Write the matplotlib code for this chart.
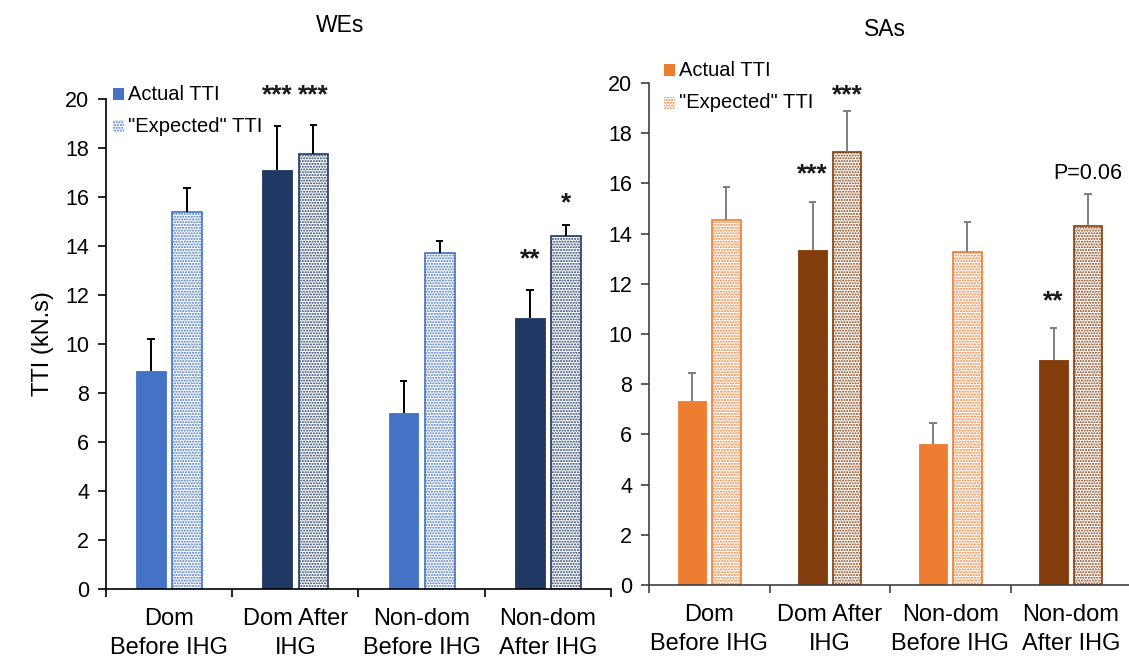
import matplotlib
matplotlib.use("Agg")
import matplotlib.pyplot as plt
from matplotlib.patches import Rectangle

plt.rcParams['font.family'] = ['Liberation Sans', 'DejaVu Sans']
plt.rcParams['hatch.linewidth'] = 1.0

# ---- data -------------------------------------------------------------
categories = ["Dom\nBefore IHG", "Dom After\nIHG", "Non-dom\nBefore IHG", "Non-dom\nAfter IHG"]
yticks = [0, 2, 4, 6, 8, 10, 12, 14, 16, 18, 20]

we_actual = [8.9, 17.1, 7.2, 11.05]
we_actual_err = [1.3, 1.8, 1.27, 1.14]
we_expected = [15.4, 17.75, 13.7, 14.4]
we_expected_err = [0.95, 1.2, 0.5, 0.45]

sa_actual = [7.35, 13.35, 5.6, 8.95]
sa_actual_err = [1.08, 1.9, 0.87, 1.27]
sa_expected = [14.55, 17.25, 13.25, 14.3]
sa_expected_err = [1.3, 1.65, 1.2, 1.27]

# significance marks: (group, series, text, y)
we_marks = [(1, 0, "***", 20.15), (1, 1, "***", 20.15), (3, 0, "**", 13.45), (3, 1, "*", 15.75)]
sa_marks = [(1, 0, "***", 16.35), (1, 1, "***", 19.5), (3, 0, "**", 11.3), (3, 1, "P=0.06", 16.4)]

# ---- colours ----------------------------------------------------------
we_light, we_dark = "#4472C4", "#203864"
sa_light, sa_dark = "#ED7D31", "#843C0C"

W, H = 1129, 666
fig = plt.figure(figsize=(W / 100, H / 100), dpi=100)


def px_rect(x0, y0, x1, y1):
    """Axes rect from pixel coordinates (origin top-left)."""
    return [x0 / W, 1 - y1 / H, (x1 - x0) / W, (y1 - y0) / H]


def upper_errors(ax, xs, tops, errs, color):
    cap = 0.03
    for xv, t, e in zip(xs, tops, errs):
        ax.vlines(xv, t, t + e, color=color, lw=1.4, zorder=3)
        ax.hlines(t + e, xv - cap, xv + cap, color=color, lw=1.4, zorder=3)


def panel(rect, actual, a_err, expected, e_err, light, dark, err_color, spine_color, marks):
    ax = fig.add_axes(rect)
    x = list(range(len(categories)))
    off, bw = 0.143, 0.236
    cols = [light, dark, light, dark]
    for i in x:
        ax.bar(i - off, actual[i], width=bw, color=cols[i], edgecolor=cols[i], linewidth=0.6, zorder=2)
        ax.bar(i + off, expected[i], width=bw, facecolor="white", edgecolor=cols[i],
               hatch="......", linewidth=1.2, zorder=2)
    upper_errors(ax, [i - off for i in x], actual, a_err, err_color)
    upper_errors(ax, [i + off for i in x], expected, e_err, err_color)
    for g, s, txt, yv in marks:
        xp = g - off if s == 0 else g + off
        if txt.startswith("*"):
            ax.text(xp, yv, txt, ha="center", va="center", fontsize=19, fontweight="bold",
                    color="#1a1a1a", clip_on=False)
        else:
            ax.text(xp, yv, txt, ha="center", va="center", fontsize=15.5, color="black", clip_on=False)
    ax.set_xlim(-0.5, 3.5)
    ax.set_ylim(0, 20)
    ax.set_yticks(yticks)
    ax.set_xticks(x)
    ax.set_xticklabels(categories, fontsize=17, linespacing=1.4)
    ax.set_xticks([-0.5, 0.5, 1.5, 2.5, 3.5], minor=True)
    ax.tick_params(axis="x", which="major", length=0, pad=14)
    ax.tick_params(axis="x", which="minor", length=6, width=1.2, direction="out", color=spine_color)
    ax.tick_params(axis="y", length=6, width=1.2, direction="out", labelsize=15.5, pad=6, color=spine_color)
    for s in ("top", "right"):
        ax.spines[s].set_visible(False)
    for s in ("left", "bottom"):
        ax.spines[s].set_color(spine_color)
        ax.spines[s].set_linewidth(1.2)
    return ax


ax1 = panel(px_rect(106, 99, 611, 589), we_actual, we_actual_err, we_expected, we_expected_err,
            we_light, we_dark, "black", "black", we_marks)
ax2 = panel(px_rect(649, 83, 1131, 585), sa_actual, sa_actual_err, sa_expected, sa_expected_err,
            sa_light, sa_dark, "#7F7F7F", "#404040", sa_marks)

ax1.set_ylabel("TTI (kN.s)", fontsize=17, labelpad=8)

fig.text(340 / W, 1 - 25 / H, "WEs", ha="center", va="center", fontsize=16.5)
fig.text(885 / W, 1 - 30 / H, "SAs", ha="center", va="center", fontsize=16.5)


def legend(x, y, color, gap):
    s = 11
    fig.patches.append(Rectangle((x / W, 1 - (y + s / 2) / H), s / W, s / H,
                                 transform=fig.transFigure, facecolor=color, edgecolor=color, lw=0))
    fig.patches.append(Rectangle((x / W, 1 - (y + gap + s / 2) / H), s / W, s / H,
                                 transform=fig.transFigure, facecolor="white", edgecolor=color,
                                 hatch="......", lw=0))
    fig.text((x + s + 4) / W, 1 - y / H, "Actual TTI", ha="left", va="center", fontsize=14.5)
    fig.text((x + s + 4) / W, 1 - (y + gap) / H, '"Expected" TTI', ha="left", va="center", fontsize=14.5)


legend(113, 94, we_light, 32)
legend(664, 70, sa_light, 33)

fig.savefig("out.png", dpi=100)
